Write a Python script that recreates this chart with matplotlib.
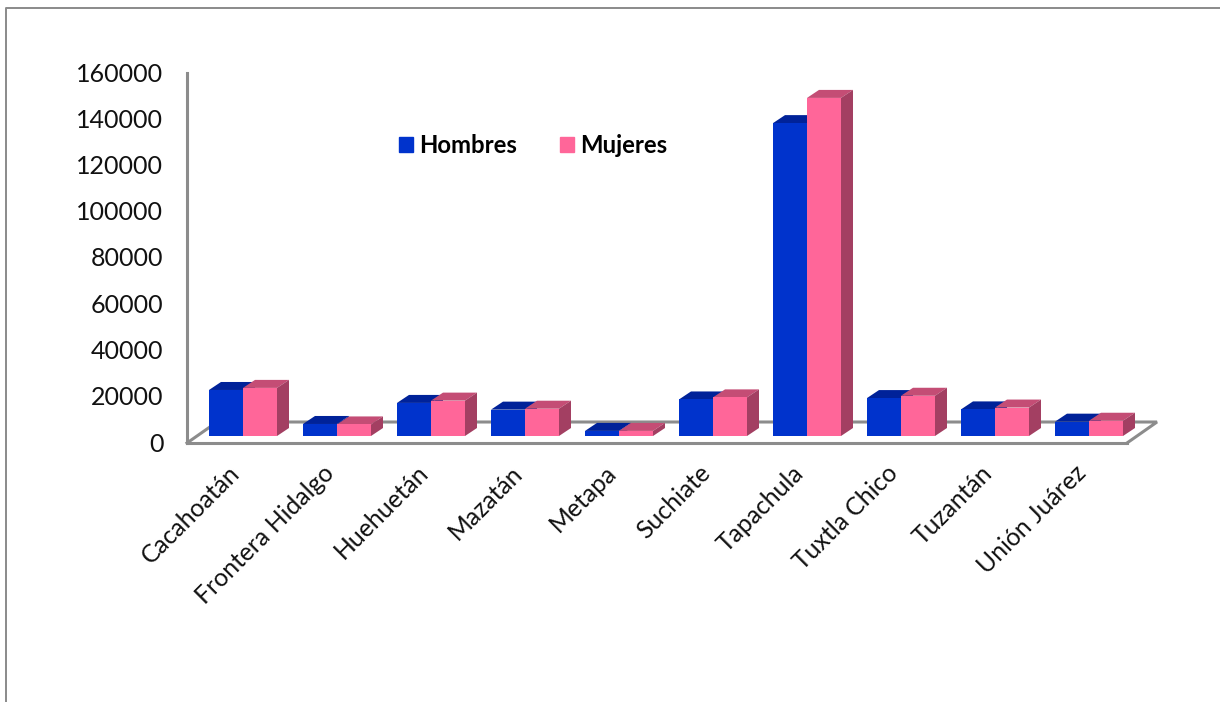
import numpy as np
import matplotlib.pyplot as plt
from matplotlib.patches import Patch, Polygon
from matplotlib.transforms import ScaledTranslation

plt.rcParams["font.family"] = ["Lato", "DejaVu Sans"]

municipios = ["Cacahoatán", "Frontera Hidalgo", "Huehuetán", "Mazatán", "Metapa",
              "Suchiate", "Tapachula", "Tuxtla Chico", "Tuzantán", "Unión Juárez"]
hombres = [19900, 5200, 14300, 11400, 2200, 15800, 135300, 16400, 11500, 6200]
mujeres = [20800, 5000, 15300, 11800, 2200, 16700, 146200, 17400, 12300, 6600]
y_ticks = [0, 20000, 40000, 60000, 80000, 100000, 120000, 140000, 160000]

W, H = 1220, 702
X0, X1, Y0, Y1 = 187, 1127, 443, 73     # caja del eje en pixeles

fig = plt.figure(figsize=(W / 100, H / 100), dpi=100, facecolor="white")
ax = fig.add_axes([X0 / W, 1 - Y0 / H, (X1 - X0) / W, (Y0 - Y1) / H])
ax.set_xlim(0, len(municipios))
ax.set_ylim(0, 160000)

# pixeles a unidades de datos
px_x = len(municipios) / (X1 - X0)
px_y = 160000 / (Y0 - Y1)

ancho = 34 * px_x
base = 7 * px_y
dx, dy = 12 * px_x, 8 * px_y
gris = "#8c8c8c"

# piso en perspectiva
fx, fy = 30 * px_x, 21 * px_y
n = len(municipios)
ax.plot([0, fx, n + fx, n], [0, fy, fy, 0], color=gris, lw=2.2, clip_on=False, zorder=1,
        solid_joinstyle="miter")


def barras_3d(x, valores, frente, arriba, lado, z):
    ax.bar(x, valores, ancho, bottom=base, align="edge", color=frente, zorder=z + 1, clip_on=False)
    for xi, v in zip(x, valores):
        t = base + v
        ax.add_patch(Polygon([(xi, t), (xi + dx, t + dy), (xi + ancho + dx, t + dy), (xi + ancho, t)],
                             color=arriba, lw=0, zorder=z, clip_on=False))
        ax.add_patch(Polygon([(xi + ancho, base), (xi + ancho + dx, base + dy),
                              (xi + ancho + dx, t + dy), (xi + ancho, t)],
                             color=lado, lw=0, zorder=z, clip_on=False))


pos = np.arange(n)
x_h = pos + 22 * px_x
x_m = x_h + ancho
for i in range(n):
    z = 2 + (n - i) * 3
    barras_3d(x_h[i:i + 1], hombres[i:i + 1], "#0033cc", "#002299", "#002299", z)
    barras_3d(x_m[i:i + 1], mujeres[i:i + 1], "#ff6699", "#c44d75", "#a33f62", z + 1)

for s in ["top", "right"]:
    ax.spines[s].set_visible(False)
for s in ["left", "bottom"]:
    ax.spines[s].set_color(gris)
    ax.spines[s].set_linewidth(2.2)

ax.set_yticks(y_ticks)
ax.tick_params(axis="y", length=0, pad=17, labelsize=18, labelcolor="#111111")
sube = ScaledTranslation(0, 1 / 100, fig.dpi_scale_trans)
for lab in ax.get_yticklabels():
    lab.set_transform(lab.get_transform() + sube)

ax.set_xticks(pos + 0.5 - 6 * px_x)
ax.set_xticklabels(municipios, rotation=45, ha="right", va="top", rotation_mode="anchor",
                   fontsize=17.8, color="#111111")
ax.tick_params(axis="x", length=0, pad=13)

leyenda = ax.legend(handles=[Patch(color="#0033cc", label="Hombres"), Patch(color="#ff6699", label="Mujeres")],
                    ncols=2, frameon=False, loc="upper left", bbox_to_anchor=(0.2255, 0.836),
                    handlelength=0.6, handleheight=0.6, handletextpad=0.25, columnspacing=1.8,
                    borderpad=0, borderaxespad=0, prop={"weight": "bold", "size": 17.2})

# marco gris de la imagen
fig.add_artist(plt.Line2D([5.5 / W, 5.5 / W, 1], [0, 1 - 7.5 / H, 1 - 7.5 / H], color="#8a8a8a", lw=1.4))

fig.savefig("out.png", dpi=100, facecolor="white")
